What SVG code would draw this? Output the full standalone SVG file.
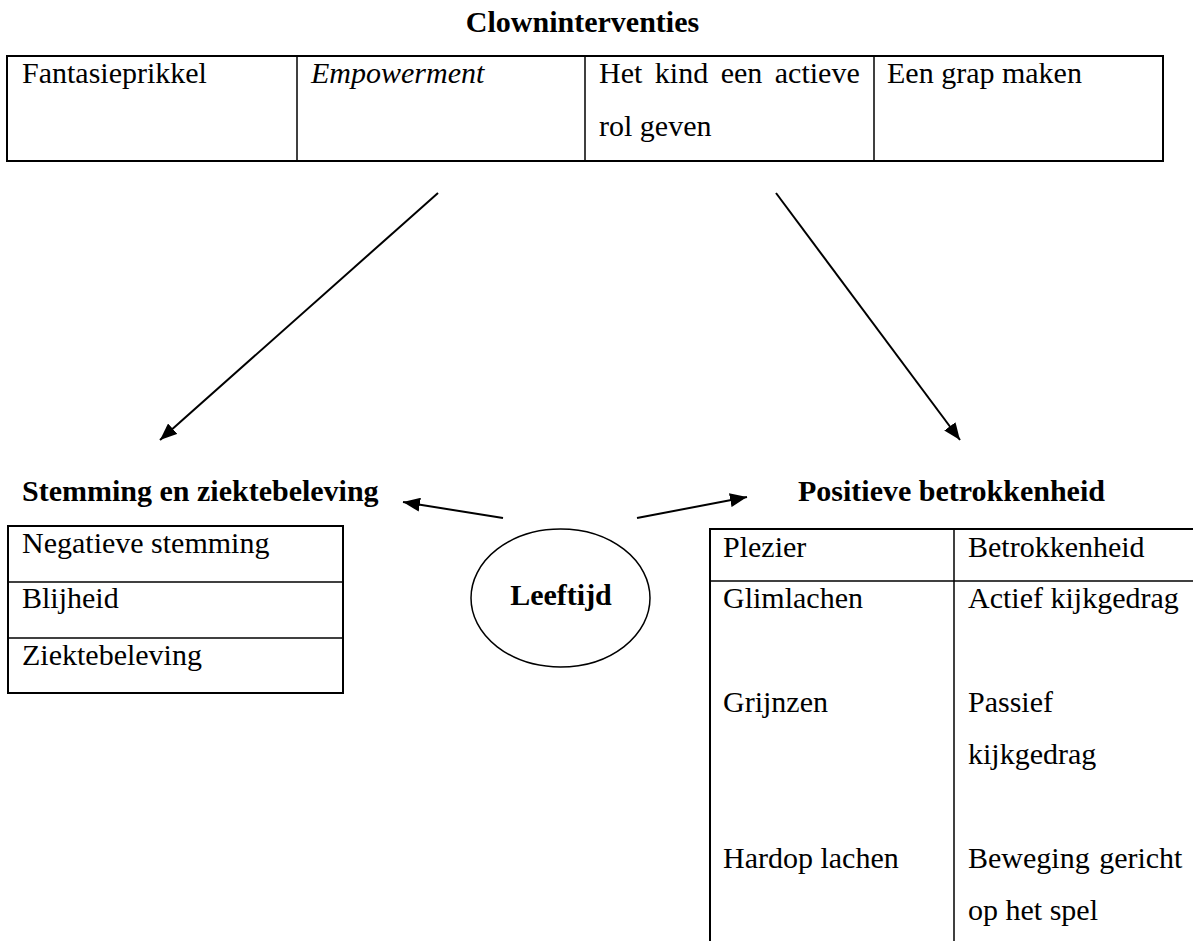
<svg xmlns="http://www.w3.org/2000/svg" width="1193" height="941" viewBox="0 0 1193 941">
<defs>
<style>
text{font-family:"Liberation Serif","Times New Roman",serif;font-size:30px;fill:#000}
.b{font-weight:bold}
.i{font-style:italic}
.outer{fill:none;stroke:#000;stroke-width:2}
.inner{stroke:#000;stroke-width:1.5;fill:none}
.conn{stroke:#000;stroke-width:2;fill:none;marker-end:url(#ah)}
</style>
<marker id="ah" markerUnits="userSpaceOnUse" markerWidth="18" markerHeight="14" refX="17" refY="7" orient="auto">
<path d="M0,0 L17,7 L0,14 z" fill="#000"/>
</marker>
</defs>
<rect width="1193" height="941" fill="#fff"/>

<g id="clowninterventies">
<text class="b" x="582.5" y="32" text-anchor="middle">Clowninterventies</text>
<rect class="outer" x="7" y="56" width="1156" height="105"/>
<line class="inner" x1="297" y1="56" x2="297" y2="161"/>
<line class="inner" x1="585" y1="56" x2="585" y2="161"/>
<line class="inner" x1="874" y1="56" x2="874" y2="161"/>
<text x="22" y="83">Fantasieprikkel</text>
<text class="i" x="311" y="83">Empowerment</text>
<text x="599" y="83" word-spacing="5">Het kind een actieve</text>
<text x="599" y="136">rol geven</text>
<text x="887" y="83">Een grap maken</text>
</g>

<g id="stemming">
<text class="b" x="22" y="501">Stemming en ziektebeleving</text>
<rect class="outer" x="8" y="526" width="335" height="167"/>
<line class="inner" x1="8" y1="582" x2="343" y2="582"/>
<line class="inner" x1="8" y1="638" x2="343" y2="638"/>
<text x="22" y="553">Negatieve stemming</text>
<text x="22" y="608">Blijheid</text>
<text x="22" y="665">Ziektebeleving</text>
</g>

<g id="leeftijd">
<ellipse cx="560.5" cy="598" rx="89.5" ry="69" fill="none" stroke="#000" stroke-width="1.5"/>
<text class="b" x="561" y="605" text-anchor="middle">Leeftijd</text>
</g>

<g id="betrokkenheid">
<text class="b" x="798" y="501">Positieve betrokkenheid</text>
<line class="outer" x1="710" y1="529" x2="1193" y2="529"/>
<line class="outer" x1="710" y1="528" x2="710" y2="941"/>
<line class="inner" x1="710" y1="581" x2="1193" y2="581"/>
<line class="inner" x1="954" y1="529" x2="954" y2="941"/>
<text x="723" y="557">Plezier</text>
<text x="968" y="557">Betrokkenheid</text>
<text x="723" y="608">Glimlachen</text>
<text x="968" y="608">Actief kijkgedrag</text>
<text x="723" y="712">Grijnzen</text>
<text x="968" y="712">Passief</text>
<text x="968" y="764">kijkgedrag</text>
<text x="723" y="868">Hardop lachen</text>
<text x="968" y="868" word-spacing="2">Beweging gericht</text>
<text x="968" y="920">op het spel</text>
</g>

<g id="connectors">
<line class="conn" x1="438" y1="193" x2="160" y2="440"/>
<line class="conn" x1="776" y1="193" x2="960" y2="440"/>
<line class="conn" x1="503" y1="518" x2="403" y2="502"/>
<line class="conn" x1="637" y1="518" x2="747" y2="497"/>
</g>
</svg>
